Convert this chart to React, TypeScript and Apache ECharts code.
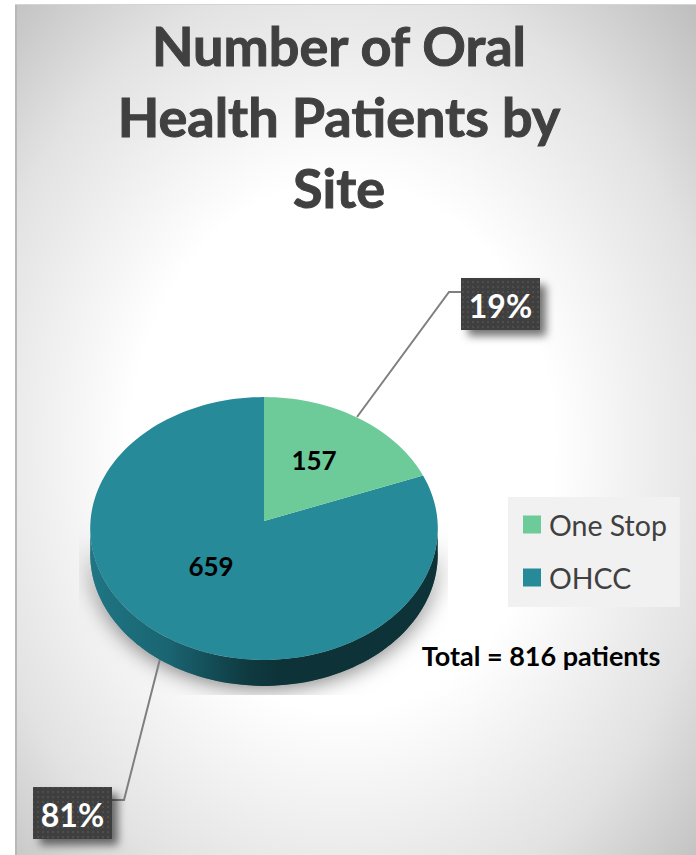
import React, { useEffect, useRef } from "react";
import * as echarts from "echarts";

const titleLines = ["Number of Oral", "Health Patients by", "Site"];
const sliceNames = ["One Stop", "OHCC"];
const sliceValues = [157, 659];
const sliceColors = ["#6ccb98", "#268a98"];
const totalText = "Total = 816 patients";

const total = sliceValues.reduce((a, b) => a + b, 0);
const FONT = "Lato, Carlito, sans-serif";

// perspective projection of the pie's top face
const APEX_X = 264, APEX_Y = 521, RX = 173.5, RY = 131, K = 0.057, DEPTH = 26;
function project(theta: number, r = 1) {
  const u = Math.sin(theta) * r, v = Math.cos(theta) * r;
  const d = 1 + K * v;
  return [APEX_X + (RX * u) / d, APEX_Y - (RY * v) / d];
}
const startAngle = (i: number) =>
  (sliceValues.slice(0, i).reduce((a, b) => a + b, 0) / total) * Math.PI * 2;

function arcPoints(a0: number, a1: number) {
  const n = Math.max(8, Math.ceil(((a1 - a0) / Math.PI) * 90));
  const pts: number[][] = [];
  for (let i = 0; i <= n; i++) pts.push(project(a0 + ((a1 - a0) * i) / n));
  return pts;
}

function dotPattern() {
  const c = document.createElement("canvas");
  c.width = 5; c.height = 5;
  const g = c.getContext("2d")!;
  g.fillStyle = "#3f3f3f"; g.fillRect(0, 0, 5, 5);
  g.fillStyle = "#4e4e4e"; g.fillRect(2, 1, 2, 2);
  return c;
}

const badges = [
  { x: 461, y: 278, line: [[357, 417], [449, 292], [461, 292]], label: [314, 460] },
  { x: 33, y: 787, line: [[161, 655], [124, 800], [112, 800]], label: [211, 566] },
];

function makeRender(idx: number, pattern: HTMLCanvasElement) {
  return (_p: any, api: any) => {
    const value = api.value(0);
    const a0 = startAngle(idx);
    const a1 = a0 + (value / total) * Math.PI * 2;
    const arc = arcPoints(a0, a1);
    const b = badges[idx];
    const children: any[] = [];
    if (idx === 1) {
      const wall = arcPoints(Math.PI / 2 + 0.02, Math.PI * 1.5 - 0.02);
      const lower = wall.map(([x, y]) => [x, y + DEPTH]).reverse();
      const wallFill = {
        type: "linear", x: 0, y: 0, x2: 1, y2: 0,
        colorStops: [
          { offset: 0, color: "#1f7684" },
          { offset: 0.22, color: "#1a6572" },
          { offset: 0.45, color: "#0f3a41" },
          { offset: 0.55, color: "#0d3237" },
          { offset: 1, color: "#0d3237" },
        ],
      };
      children.push({
        type: "group",
        clipPath: { type: "rect", shape: { x: 79, y: 490, width: 369, height: 205 } },
        children: [{
          type: "polygon",
          shape: { points: wall.concat(lower) },
          style: { fill: "#8a8a8a", shadowBlur: 22, shadowColor: "rgba(0,0,0,0.55)", shadowOffsetY: 2 },
          z2: 0,
        }],
      });
      children.push({
        type: "polygon",
        shape: { points: wall.concat(lower) },
        style: { fill: wallFill },
        z2: 2,
      });
    }
    children.push({
      type: "polyline",
      shape: { points: b.line },
      style: { stroke: "#7f7f7f", lineWidth: 2, fill: "none" },
      z2: 1,
    });
    children.push({
      type: "polygon",
      shape: { points: [[APEX_X, APEX_Y], ...arc] },
      style: { fill: sliceColors[idx] },
      z2: 3,
    });
    children.push({
      type: "text",
      style: {
        x: b.label[0], y: b.label[1], text: String(value),
        font: `bold 26px ${FONT}`, fill: "#000000", align: "center", verticalAlign: "middle",
      },
      z2: 4,
    });
    children.push({
      type: "rect",
      shape: { x: b.x + 1, y: b.y + 1, width: 78, height: 51 },
      style: { fill: "#3f3f3f", shadowBlur: 9, shadowOffsetX: 6, shadowOffsetY: 6, shadowColor: "rgba(0,0,0,0.55)" },
      z2: 5,
    });
    children.push({
      type: "rect",
      shape: { x: b.x, y: b.y, width: 79, height: 52 },
      style: { fill: { image: pattern, repeat: "repeat" } },
      z2: 6,
    });
    children.push({
      type: "text",
      style: {
        x: b.x + 39.5, y: b.y + 27, text: `${Math.round((value / total) * 100)}%`,
        font: `bold 32px ${FONT}`, fill: "#ffffff", align: "center", verticalAlign: "middle",
      },
      z2: 7,
    });
    return { type: "group", children };
  };
}

export default function App() {
  const ref = useRef<HTMLDivElement>(null);
  useEffect(() => {
    const chart = echarts.init(ref.current!, undefined, { renderer: "svg", width: 696, height: 855 });
    const pattern = dotPattern();
    chart.setOption({
      animation: false,
      title: {
        text: titleLines.join("\n"),
        left: 334, top: 5, textAlign: "center",
        textStyle: {
          fontFamily: FONT, fontWeight: "bold", fontSize: 54, lineHeight: 71, color: "#404040",
          textBorderColor: "#404040", textBorderWidth: 1,
        },
      },
      legend: {
        orient: "vertical", left: 508, top: 497, padding: [12, 13, 14, 15],
        data: sliceNames, icon: "rect", itemWidth: 18, itemHeight: 18, itemGap: 22,
        backgroundColor: "#f1f1f1",
        selectedMode: false,
        textStyle: { fontFamily: FONT, fontSize: 28.5, color: "#404040", padding: [0, 0, 0, 3], lineHeight: 31 },
      },
      graphic: [
        {
          type: "rect", z: -10, silent: true,
          shape: { x: 16, y: 5, width: 680, height: 850 },
          style: {
            fill: {
              type: "radial", x: 0.48, y: 0.52, r: 0.74,
              colorStops: [
                { offset: 0, color: "#ffffff" },
                { offset: 0.42, color: "#ffffff" },
                { offset: 0.75, color: "#e2e2e2" },
                { offset: 1, color: "#bdbdbd" },
              ],
            },
          },
        },
        { type: "rect", z: -9, silent: true, shape: { x: 15, y: 4, width: 2, height: 851 }, style: { fill: "#b8b8b8" } },
        { type: "rect", z: -9, silent: true, shape: { x: 15, y: 4, width: 681, height: 1 }, style: { fill: "#d4d4d4" } },
        {
          type: "text", z: 10, x: 541, y: 655,
          style: { text: totalText, font: `bold 27px ${FONT}`, fill: "#000000", align: "center", verticalAlign: "middle" },
        },
      ],
      series: sliceNames.map((name, i) => ({
        type: "custom",
        name,
        coordinateSystem: "none",
        z: i === 1 ? 2 : 3,
        itemStyle: { color: sliceColors[i] },
        data: [[sliceValues[i]]],
        renderItem: makeRender(i, pattern),
      })),
    });
    return () => chart.dispose();
  }, []);
  return <div ref={ref} style={{ position: "absolute", left: 0, top: 0, width: 696, height: 855 }} />;
}
